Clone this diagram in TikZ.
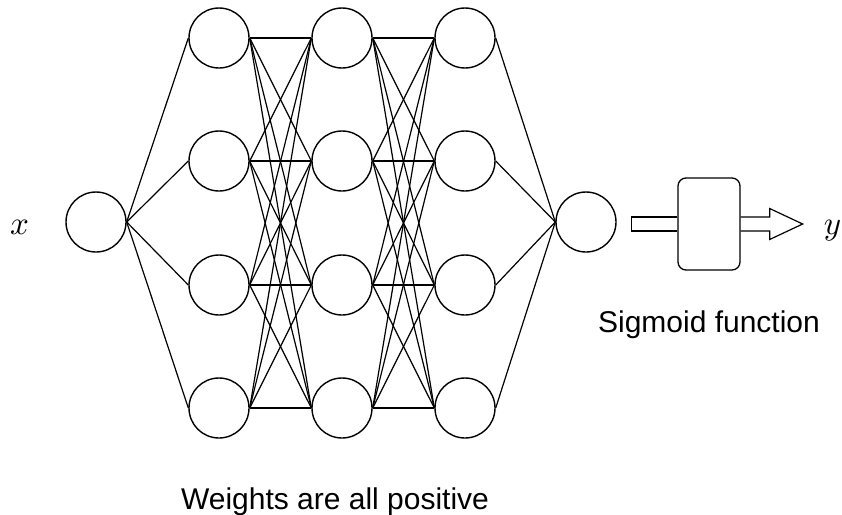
\documentclass[tikz,border=0pt]{standalone}
\usepackage{fontspec}
\setmainfont{Liberation Sans}
\font\varfont=cmmi10 at 33pt
\begin{document}
\begin{tikzpicture}
  [x=1pt,y=-1pt,line width=1.2pt,
   every node/.style={inner sep=0pt},
   neuron/.style={circle,draw,line width=1.4pt,minimum size=60pt},
   label/.style={font=\fontsize{30}{34}\selectfont},
   var/.style={font=\varfont}]
  \useasboundingbox (0,0) rectangle (842,514);

  \node[neuron] (in) at (96,222) {};
  \node[neuron] (out) at (586,222) {};

  % hidden layers
  \foreach \l/\x in {1/219,2/342,3/465}
    \foreach \r/\y in {1/38,2/161,3/285,4/408}
      \node[neuron] (n\l\r) at (\x,\y) {};

  \foreach \r in {1,...,4} {
    \draw (in.east) -- (n1\r.west);
    \draw (n3\r.east) -- (out.west);
    \foreach \s in {1,...,4} {
      \draw (n1\r.east) -- (n2\s.west);
      \draw (n2\r.east) -- (n3\s.west);
    }
  }

  % sigmoid
  \node[draw,line width=1.3pt,rounded corners=8pt,minimum width=62pt,minimum height=92pt] (sig) at (709,224) {};
  \draw (sig.west) ++(0,-7) -- ++(-46,0) -- ++(0,14) -- ++(46,0);
  \draw[line join=miter] (sig.east) ++(0,-7) -- ++(29,0) -- ++(0,-8.5) -- ++(33,15.5)
    -- ++(-33,15.5) -- ++(0,-8.5) -- ++(-29,0);

  \node[var,anchor=base] (x) at (19.5,234) {x};
  \node[var,anchor=base] (y) at (832,234) {y};
  \node[label,anchor=base] (sigtext) at (709,332) {Sigmoid function};
  \node[label,anchor=base] (wtext) at (335,509) {Weights are all positive};
\end{tikzpicture}
\end{document}
